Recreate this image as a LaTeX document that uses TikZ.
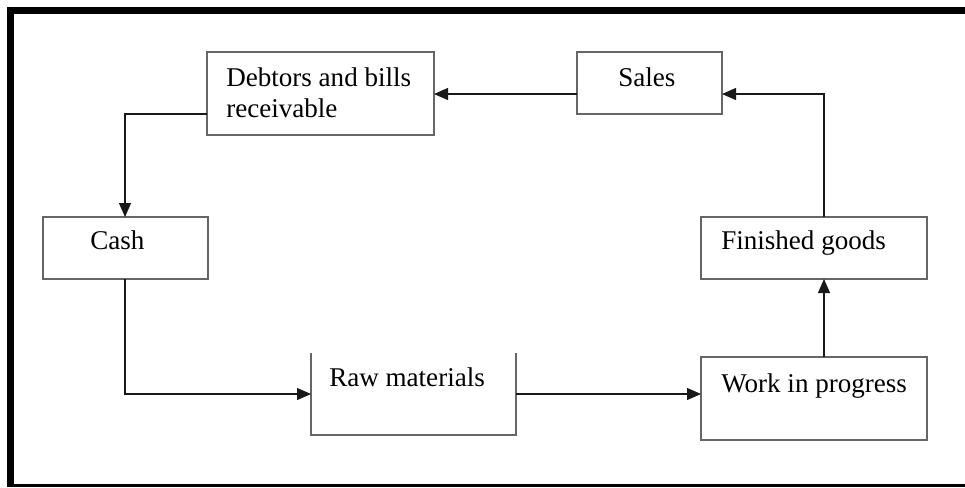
\documentclass[tikz,border=0pt]{standalone}
\usepackage{fontspec}
\setmainfont{Liberation Serif}
\usetikzlibrary{arrows.meta,calc}
\begin{document}
\begin{tikzpicture}[x=0.75pt,y=-0.75pt,
  box/.style={draw=black!60,line width=0.8pt,rectangle,inner sep=0pt,outer sep=0pt},
  openbox/.style={rectangle,inner sep=0pt,outer sep=0pt},
  lbl/.style={anchor=base west,inner sep=0pt,font=\fontsize{20.3}{23.25}\selectfont},
  arr/.style={draw=black!90,line width=0.85pt,-{Triangle[length=10.5pt,width=9pt]}}]
\useasboundingbox (0,0) rectangle (965,487);
% frame
\draw[line width=5.25pt] (10.5,487) -- (10.5,10.5) -- (965,10.5);
\draw[line width=2pt] (7,485.5) -- (965,485.5);
% boxes
\node[box,minimum width=227*0.75pt,minimum height=83*0.75pt] (deb) at (320.5,93.5) {};
\node[box,minimum width=145*0.75pt,minimum height=62*0.75pt] (sales) at (649.5,83) {};
\node[box,minimum width=165*0.75pt,minimum height=62*0.75pt] (cash) at (125.5,248) {};
\node[box,minimum width=226*0.75pt,minimum height=62*0.75pt] (fg) at (814,248) {};
\node[box,minimum width=226*0.75pt,minimum height=83*0.75pt] (wip) at (814,398.5) {};
\node[openbox,minimum width=205*0.75pt,minimum height=82*0.75pt] (raw) at (413.5,394) {};
\draw[draw=black!60,line width=0.8pt] (raw.north west) -- (raw.south west) -- (raw.south east) -- (raw.north east);
% texts
\node[lbl] (t1) at (226,86) {Debtors and bills};
\node[lbl] (t2) at (226,117) {receivable};
\node[lbl] (t3) at (618,86) {Sales};
\node[lbl] (t4) at (90,249) {Cash};
\node[lbl] (t5) at (721,249) {Finished goods};
\node[lbl] (t6) at (721,392) {Work in progress};
\node[lbl] (t7) at (329,386) {Raw materials};
% connectors
\coordinate (c1) at (824,94);
\coordinate (c2) at (125,114);
\draw[arr] (sales.west |- c1) -- (deb.east |- c1);
\draw[arr] (fg.north -| c1) -- (c1) -- (sales.east |- c1);
\draw[arr] (wip.north -| c1) -- (fg.south -| c1);
\draw[arr] (deb.west |- c2) -- (c2) -- (cash.north -| c2);
\draw[arr] (cash.south -| c2) |- (raw.west);
\draw[arr] (raw.east) -- (raw.east -| wip.west);
\end{tikzpicture}
\end{document}
